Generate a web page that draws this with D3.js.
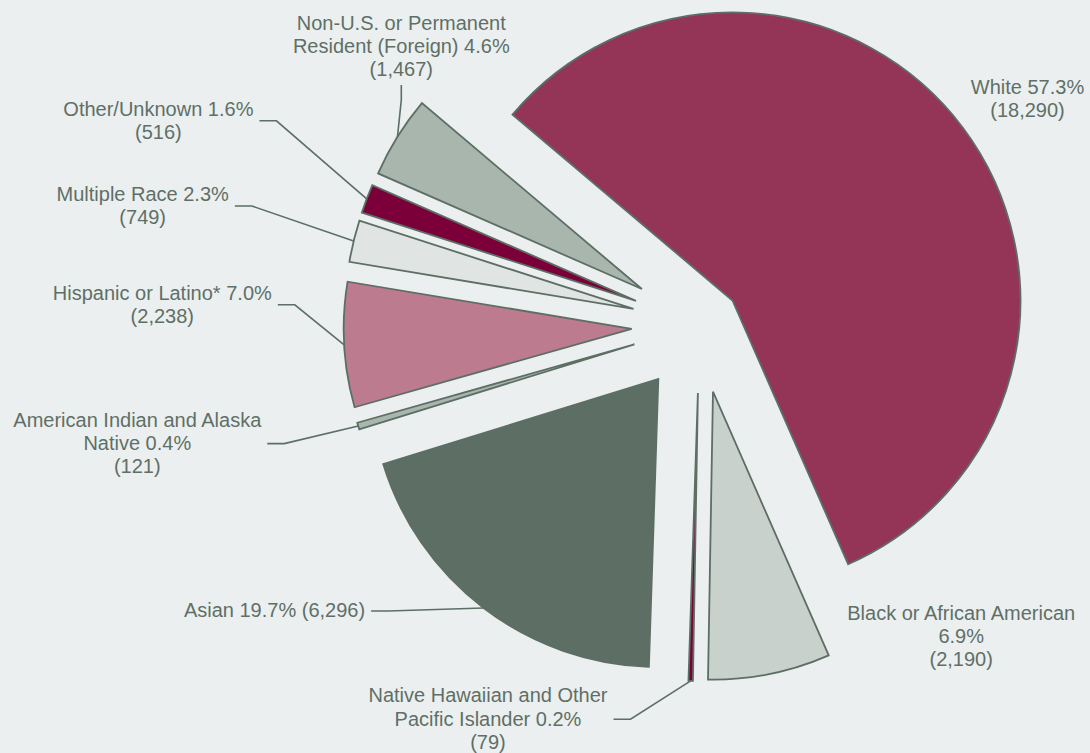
<!DOCTYPE html>
<html>
<head>
<meta charset="utf-8">
<script src="https://cdn.jsdelivr.net/npm/d3@7"></script>
<style>
  html, body { margin: 0; padding: 0; background: #ebefef; }
  svg { display: block; }
  text { font-family: "Liberation Sans", Arial, sans-serif; }
</style>
</head>
<body>
<svg id="chart" width="1090" height="753"></svg>
<script>
// ---- data ----
const categories = [
  "White",
  "Black or African American",
  "Native Hawaiian and Other Pacific Islander",
  "Asian",
  "American Indian and Alaska Native",
  "Hispanic or Latino*",
  "Multiple Race",
  "Other/Unknown",
  "Non-U.S. or Permanent Resident (Foreign)"
];
const counts = [18290, 2190, 79, 6296, 121, 2238, 749, 516, 1467];
// label text templates ({p} = percent, {n} = count)
const labelLines = [
  ["White {p}", "({n})"],
  ["Black or African American", "{p}", "({n})"],
  ["Native Hawaiian and Other", "Pacific Islander {p}", "({n})"],
  ["Asian {p} ({n})"],
  ["American Indian and Alaska", "Native {p}", "({n})"],
  ["Hispanic or Latino* {p}", "({n})"],
  ["Multiple Race {p}", "({n})"],
  ["Other/Unknown {p}", "({n})"],
  ["Non-U.S. or Permanent", "Resident (Foreign) {p}", "({n})"]
];

// ---- styles / layout ----
const colors = ["#943558", "#c8d1cb", "#7b0039", "#5d6e64", "#a9b6ae",
                "#bd7b8f", "#e0e4e2", "#7b0039", "#a9b6ae"];
const explode = [41, 68, 68, 68, 68, 68, 68, 68, 68];
const labelLayout = [
  { x: 1027.5, y: 94,    leader: null },
  { x: 961.2,  y: 619.6, leader: null },
  { x: 488,    y: 702.3, leader: "right" },
  { x: 274.5,  y: 617.3, leader: "right" },
  { x: 137.3,  y: 426.7, leader: "right" },
  { x: 162.3,  y: 299.5, leader: "right" },
  { x: 142.7,  y: 200.7, leader: "right" },
  { x: 158.4,  y: 115.5, leader: "right" },
  { x: 401.3,  y: 30,    leader: "bottom" }
];
const cx = 699.6, cy = 325, R = 288;
const startDeg = -49.8;
const lineH = 23.2;
const strokeCol = "#5d6e64";
const textCol = "#5f6f67";

const svg = d3.select("#chart");
const total = d3.sum(counts);
const fmtP = d3.format(".1%");
const fmtN = d3.format(",");

const a0 = startDeg * Math.PI / 180;
const pie = d3.pie().sort(null).value(d => d)
  .startAngle(a0).endAngle(a0 + 2 * Math.PI);
const arcs = pie(counts);
const arc = d3.arc().innerRadius(0).outerRadius(R);

const slices = svg.append("g");
arcs.forEach((a, i) => {
  const mid = (a.startAngle + a.endAngle) / 2;
  const dx = explode[i] * Math.sin(mid), dy = -explode[i] * Math.cos(mid);
  a.ox = cx + dx; a.oy = cy + dy; a.mid = mid;
  slices.append("path")
    .attr("transform", `translate(${a.ox},${a.oy})`)
    .attr("d", arc(a))
    .attr("fill", colors[i])
    .attr("stroke", strokeCol)
    .attr("stroke-width", 1.8)
    .attr("stroke-linejoin", "miter");
});

const labels = svg.append("g");
const leaders = svg.append("g");
arcs.forEach((a, i) => {
  const L = labelLayout[i];
  const p = fmtP(counts[i] / total), n = fmtN(counts[i]);
  const lines = labelLines[i].map(s => s.replace("{p}", p).replace("{n}", n));
  const t = labels.append("text")
    .attr("text-anchor", "middle")
    .attr("fill", textCol)
    .attr("font-size", 20);
  lines.forEach((s, k) => {
    t.append("tspan").attr("x", L.x).attr("y", L.y + k * lineH).text(s);
  });
  if (!L.leader) return;
  const tx = a.ox + R * Math.sin(a.mid), ty = a.oy - R * Math.cos(a.mid);
  let pts;
  if (L.leader === "right") {
    let maxW = 0;
    t.selectAll("tspan").each(function () { maxW = Math.max(maxW, this.getComputedTextLength()); });
    const sx = L.x + maxW / 2 + 6;
    const sy = (L.y + L.y + (lines.length - 1) * lineH) / 2 - 6.3;
    pts = [[sx, sy], [sx + 17, sy], [tx, ty]];
  } else {
    const sx = L.x;
    const sy = L.y + (lines.length - 1) * lineH + 8.5;
    pts = [[sx, sy], [sx, sy + 15], [tx, ty]];
  }
  leaders.append("path")
    .attr("d", d3.line()(pts))
    .attr("fill", "none")
    .attr("stroke", strokeCol)
    .attr("stroke-width", 1.6);
});
</script>
</body>
</html>
